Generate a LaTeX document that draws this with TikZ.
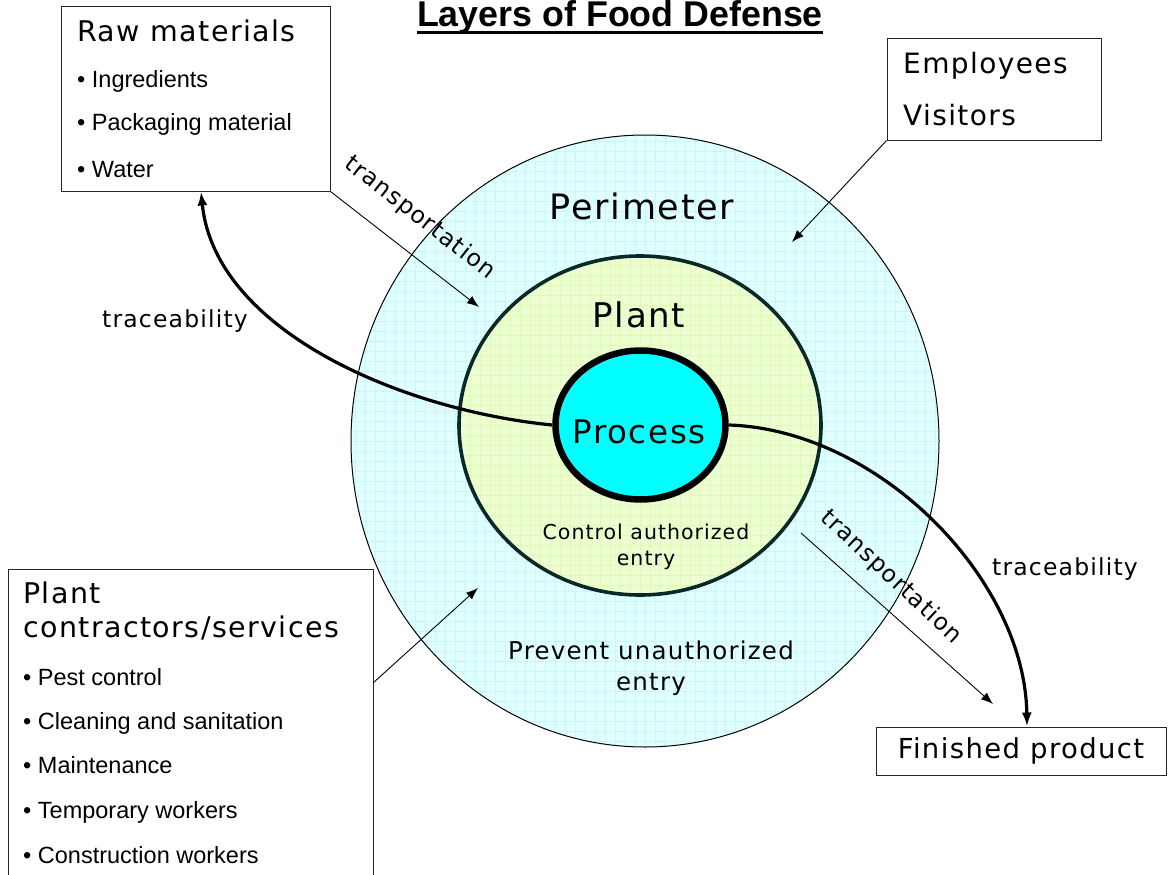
\documentclass[tikz,border=0pt]{standalone}
\usepackage{fontspec}
\setmainfont{Liberation Sans}
\newfontfamily\labfont[LetterSpace=5]{DejaVu Sans}
\usetikzlibrary{arrows.meta,calc,positioning,shapes.geometric}

\definecolor{perimfill}{RGB}{226,255,255}
\definecolor{perimgrid}{RGB}{198,247,250}
\definecolor{plantfill}{RGB}{236,255,208}
\definecolor{plantgrid}{RGB}{224,250,182}
\definecolor{procfill}{RGB}{0,255,255}
\definecolor{plantedge}{RGB}{10,40,40}

\tikzset{
	box/.style={draw=black!85, line width=1pt, inner sep=0pt},
	lab/.style={font=\labfont\fontsize{#1}{#1}\selectfont, inner sep=0pt},
	item/.style={font=\fontsize{23.5}{23.5}\selectfont, inner sep=0pt, anchor=base west},
	feed/.style={-{Latex[length=12pt,width=9pt]}, line width=0.9pt},
	trace/.style={-{Latex[length=14pt,width=10pt]}, line width=3.2pt},
	layer/.style={ellipse, inner sep=0pt, path picture={\draw[#1, line width=0.5pt] (path picture bounding box.south west) grid[step=10pt] (path picture bounding box.north east);}}
}

\begin{document}
\begin{tikzpicture}[x=1pt,y=-1pt]
	\clip (0,0) rectangle (1171,875);
	% layers
	\node[layer=perimgrid, fill=perimfill, draw, line width=1pt, minimum width=588pt, minimum height=612pt] (perim) at (645,441) {};
	\node[layer=plantgrid, fill=plantfill, draw=plantedge, line width=3.6pt, minimum width=362pt, minimum height=339pt] (plant) at (640,425.5) {};
	\node[ellipse, fill=procfill, draw, line width=6.5pt, inner sep=0pt, minimum width=170pt, minimum height=149pt] (proc) at (640.5,425) {};
	\node[lab=35, anchor=base] (perimlab) at (642,219) {Perimeter};
	\node[lab=34, anchor=base] (plantlab) at (639,327) {Plant};
	\node[lab=32.5, anchor=base] (proclab) at (639,443) {Process};
	\node[lab=20.5, anchor=base] (ctrl1) at (646,539) {Control authorized};
	\node[lab=24.5, anchor=base] (prev1) at (651,659) {Prevent unauthorized};
	\node[lab=20.5, anchor=base] (ctrl2) at (646,565) {entry};
	\node[lab=24.5, anchor=base] (prev2) at (651,690) {entry};

	% title
	\node[font=\bfseries\fontsize{35.8}{35.8}\selectfont, inner sep=0pt, anchor=base] (title) at (620,27) {Layers of Food Defense};
	\draw[line width=2.8pt] ($(title.base west)+(0,5.8)$) -- ($(title.base east)+(0,5.8)$);

	% boxes
	\node[box, minimum width=269pt, minimum height=184pt] (raw) at (195.5,99) {};
	\node[lab=28.5, anchor=base west] (rawhead) at (77,42) {Raw materials};
	\node[item] (ing) at (77,88) {• Ingredients};
	\node[item] (pack) at (77,131) {• Packaging material};
	\node[item] (water) at (77,177) {• Water};

	\node[box, minimum width=214pt, minimum height=101pt] (staff) at (994,89.5) {};
	\node[lab=28, anchor=base west] (emp) at (903,74) {Employees};
	\node[lab=28, anchor=base west] (vis) at (903,125) {Visitors};

	\node[box, minimum width=365pt, minimum height=320pt] (contr) at (190.5,729) {};
	\node[lab=28.5, anchor=base west] (contrhead) at (23,603) {Plant};
	\node[lab=28.5, anchor=base west] (contrhead2) at (23,637) {contractors/services};
	\foreach \y/\t [count=\i] in {685/Pest control, 729/Cleaning and sanitation, 773/Maintenance, 818/Temporary workers, 863/Construction workers}
		\node[item] (svc\i) at (23,\y) {• \t};

	\node[box, lab=27.5, minimum width=290pt, minimum height=48pt] (fin) at (1021,751) {Finished product};

	% entry arrows
	\coordinate (perimin) at (792,242);
	\coordinate (plantin) at (479,307);
	\coordinate (controut) at (373,683);
	\coordinate (contrin) at (478,588);
	\coordinate (plantout) at (801,533);
	\coordinate (finin) at (993,704);
	\draw[feed] (staff.south west) -- (perimin);
	\draw[feed] (raw.south east) -- (plantin);
	\draw[feed] (controut) -- (contrin);
	\draw[feed] (plantout) -- (finin);
	\node[lab=23.5, rotate=-38] (trans1) at (420,218) {transportation};
	\node[lab=23.5, rotate=-43] (trans2) at (891,577) {transportation};

	% traceability
	\draw[trace] (proc.west) .. controls (400,410) and (215,330) .. ([xshift=5.5pt]raw.south);
	\draw[trace] (proc.east) .. controls (880,430) and (1025,580) .. ([xshift=6pt]fin.north);
	\node[lab=23.5, anchor=base] (trace1) at (175,327) {traceability};
	\node[lab=23.5, anchor=base] (trace2) at (1065,575) {traceability};
\end{tikzpicture}
\end{document}
